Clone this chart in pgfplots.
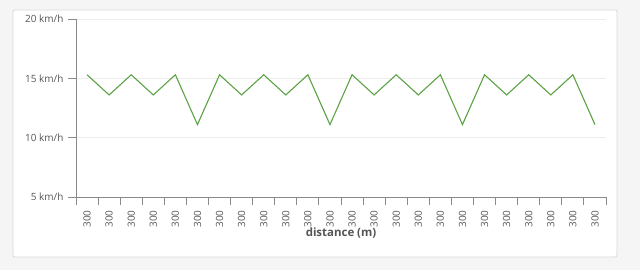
\documentclass[border=0pt]{standalone}
\usepackage{fontspec}
\setmainfont{Open Sans}
\usepackage{pgfplots}
\pgfplotsset{compat=1.18}
\definecolor{bg}{HTML}{F5F5F5}
\definecolor{cardborder}{HTML}{D8D8D8}
\definecolor{axisgray}{HTML}{8A8A8A}
\definecolor{textgray}{HTML}{555555}
\definecolor{gridgray}{HTML}{EDEDED}
\definecolor{linegreen}{HTML}{5CA346}
\begin{document}
\begin{tikzpicture}[x=1bp,y=1bp]
\useasboundingbox (0,0) rectangle (640,270);
\fill[bg] (0,0) rectangle (640,270);
\filldraw[fill=white, draw=cardborder, line width=0.8bp, rounded corners=2bp] (13,13) rectangle (617,260);
\begin{axis}[
  at={(76bp,73bp)}, anchor=south west,
  scale only axis, width=530bp, height=178bp,
  xmin=0, xmax=24, ymin=5, ymax=20,
  axis x line*=bottom, axis y line*=left,
  axis line style={draw=axisgray, line width=0.9bp},
  tick align=outside,
  major tick length=8bp, minor tick length=8bp,
  xtick={0.5,1.5,...,23.5},
  xticklabels={300,300,300,300,300,300,300,300,300,300,300,300,300,300,300,300,300,300,300,300,300,300,300,300},
  minor xtick={0,1,...,24},
  major x tick style={draw=none},
  minor x tick style={draw=axisgray, line width=0.9bp},
  ytick={5,10,15,20},
  yticklabels={5 km/h,10 km/h,15 km/h,20 km/h},
  major y tick style={draw=axisgray, line width=0.9bp},
  ymajorgrids, grid style={draw=gridgray, line width=0.8bp},
  ticklabel style={font=\fontsize{10}{12}\selectfont, text=textgray},
  yticklabel style={xshift=-1bp},
  xticklabel style={rotate=90, anchor=east, xshift=-2bp},
  xlabel={\bfseries distance (m)},
  xlabel style={font=\fontsize{11.5}{13}\selectfont, text=textgray, at={(axis description cs:0.5,0)}, anchor=center, yshift=-36bp},
  clip=false,
]
\addplot[linegreen, line width=1.1bp, mark=none] coordinates {
(0.5,15.3) (1.5,13.6) (2.5,15.3) (3.5,13.6) (4.5,15.3) (5.5,11.1)
(6.5,15.3) (7.5,13.6) (8.5,15.3) (9.5,13.6) (10.5,15.3) (11.5,11.1)
(12.5,15.3) (13.5,13.6) (14.5,15.3) (15.5,13.6) (16.5,15.3) (17.5,11.1)
(18.5,15.3) (19.5,13.6) (20.5,15.3) (21.5,13.6) (22.5,15.3) (23.5,11.1)
};
\end{axis}
\end{tikzpicture}
\end{document}
